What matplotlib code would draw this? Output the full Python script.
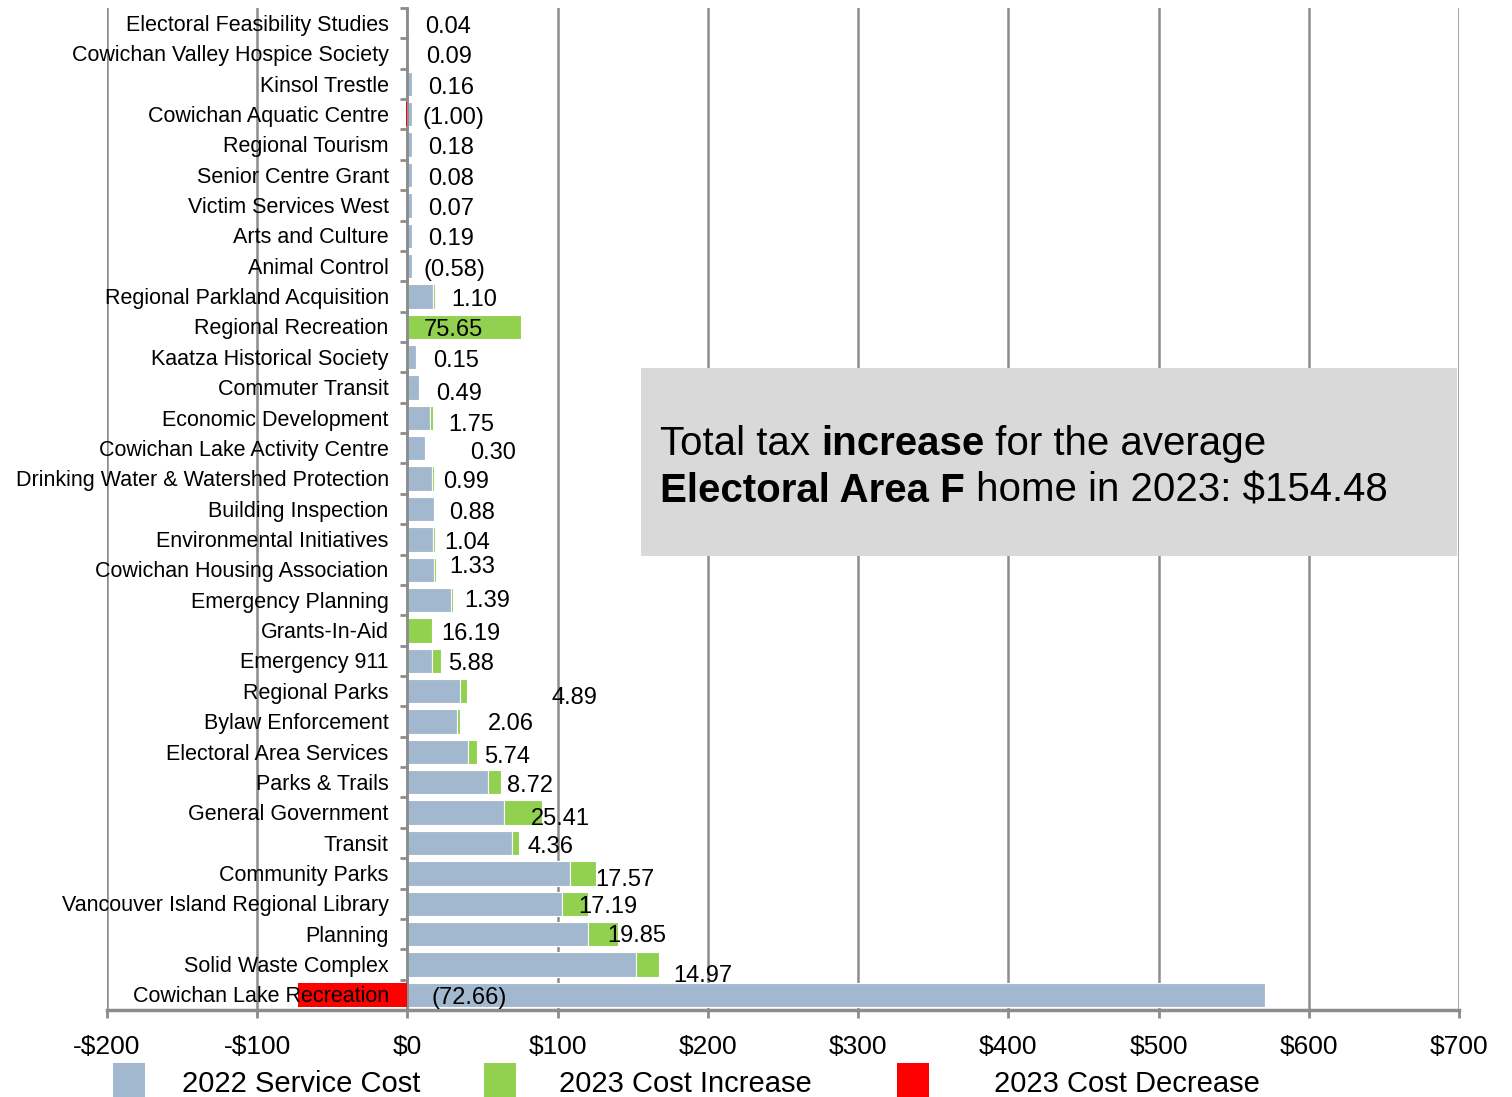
import matplotlib
matplotlib.use("Agg")
import matplotlib.pyplot as plt
from matplotlib.patches import Rectangle

plt.rcParams['font.family'] = ['Liberation Sans', 'DejaVu Sans']

categories = [
    "Electoral Feasibility Studies", "Cowichan Valley Hospice Society", "Kinsol Trestle",
    "Cowichan Aquatic Centre", "Regional Tourism", "Senior Centre Grant",
    "Victim Services West", "Arts and Culture", "Animal Control",
    "Regional Parkland Acquisition", "Regional Recreation", "Kaatza Historical Society",
    "Commuter Transit", "Economic Development", "Cowichan Lake Activity Centre",
    "Drinking Water & Watershed Protection", "Building Inspection", "Environmental Initiatives",
    "Cowichan Housing Association", "Emergency Planning", "Grants-In-Aid",
    "Emergency 911", "Regional Parks", "Bylaw Enforcement", "Electoral Area Services",
    "Parks & Trails", "General Government", "Transit", "Community Parks",
    "Vancouver Island Regional Library", "Planning", "Solid Waste Complex",
    "Cowichan Lake Recreation",
]
# 2022 service cost
cost_2022 = [0.3, 0.5, 3.0, 3.0, 3.0, 3.0, 3.0, 3.0, 3.0,
             17.0, 0.0, 6.0, 8.0, 15.0, 12.0,
             16.5, 17.5, 17.0, 17.5, 29.0, 0.0,
             16.5, 34.7, 33.0, 40.3, 53.6, 64.3, 69.8, 108.0,
             103.0, 120.4, 152.4, 571.0]
# 2023 change (positive = increase, negative = decrease)
change_2023 = [0.04, 0.09, 0.16, -1.00, 0.18, 0.08, 0.07, 0.19, -0.58,
               1.10, 75.65, 0.15, 0.49, 1.75, 0.30,
               0.99, 0.88, 1.04, 1.33, 1.39, 16.19,
               5.88, 4.89, 2.06, 5.74, 8.72, 25.41, 4.36, 17.57,
               17.19, 19.85, 14.97, -72.66]
# data label placement (x start in $, vertical shift in rows)
label_x = [12, 12.7, 14, 10, 14, 14, 14, 14, 10.7,
           29.3, 10.7, 17.3, 19.3, 27.3, 42,
           24, 28, 24.7, 28, 38, 22.7,
           27.3, 96, 53.3, 51.3, 66, 82, 80, 125.3,
           114, 132.7, 176.7, 16]
label_dy = [0, 0, 0, 0, 0, 0, 0, 0, 0,
            0, 0, 0, 0.1, 0.1, 0.05,
            0, 0, 0, -0.2, -0.1, 0,
            0, 0.1, -0.05, 0.05, 0, 0.1, 0, 0.1,
            0, -0.05, 0.25, 0]
xticks = [-200, -100, 0, 100, 200, 300, 400, 500, 600, 700]
legend_labels = ["2022 Service Cost", "2023 Cost Increase", "2023 Cost Decrease"]

BLUE = '#A2B8CF'
GREEN = '#92D050'
RED = '#FF0000'
GRID = '#8C8C8C'

W, H = 1512, 1097
fig = plt.figure(figsize=(W / 100, H / 100), dpi=100)
ax = fig.add_axes([107 / W, 1 - 1010 / H, (1459 - 107) / W, (1010 - 8) / H])

n = len(categories)
ys = list(range(n))
inc = [max(c, 0) for c in change_2023]
dec = [min(c, 0) for c in change_2023]

ax.barh(ys, cost_2022, left=0, height=0.8, color=BLUE, edgecolor='white', linewidth=0.8, zorder=3)
ax.barh(ys, inc, left=cost_2022, height=0.8, color=GREEN, edgecolor='white', linewidth=0.8, zorder=3)
ax.barh(ys, dec, left=0, height=0.8, color=RED, edgecolor='none', linewidth=0, zorder=5)

ax.set_xlim(-200, 700)
ax.set_ylim(n - 0.5, -0.5)

# x axis
ax.set_xticks(xticks)
ax.set_xticklabels([("-$%d" % abs(v)) if v < 0 else ("$%d" % v) for v in xticks], fontsize=19)
ax.tick_params(axis='x', length=6, width=2, color=GRID, pad=12)
ax.xaxis.grid(True, color=GRID, linewidth=1.8, zorder=0)
ax.set_axisbelow(True)

# zero axis with category-boundary ticks
ax.spines['left'].set_position(('data', 0))
ax.spines['left'].set_color(GRID)
ax.spines['left'].set_linewidth(2)
ax.spines['left'].set_zorder(4)
ax.set_yticks([i - 0.5 for i in range(n + 1)])
ax.set_yticklabels([])
ax.tick_params(axis='y', length=5, width=2, color=GRID, direction='out')
for s in ['top', 'right']:
    ax.spines[s].set_visible(False)
ax.spines['bottom'].set_color(GRID)
ax.spines['bottom'].set_linewidth(2.5)

# category labels
for y, cat in zip(ys, categories):
    ax.text(-12.5, y + 0.07, cat, ha='right', va='center', fontsize=15.5, zorder=6)

# data labels
for y, c, lx, dy in zip(ys, change_2023, label_x, label_dy):
    s = ("(%.2f)" % abs(c)) if c < 0 else ("%.2f" % c)
    ax.text(lx, y + 0.12 + dy, s, ha='left', va='center', fontsize=17, zorder=6)

# annotation box
fig.patches.append(Rectangle((641 / W, 1 - 556 / H), 816 / W, 188 / H,
                             transform=fig.transFigure, facecolor='#D9D9D9',
                             edgecolor='none', zorder=5))
fs = 29
t1 = fig.text(660 / W, 1 - 455 / H, "Total tax ", fontsize=fs, va='baseline', zorder=6)
t2 = fig.text(0, 0, "increase", fontsize=fs, fontweight='bold', va='baseline', zorder=6)
t3 = fig.text(0, 0, " for the average", fontsize=fs, va='baseline', zorder=6)
t4 = fig.text(660 / W, 1 - 502 / H, "Electoral Area F", fontsize=fs, fontweight='bold', va='baseline', zorder=6)
t5 = fig.text(0, 0, " home in 2023: $154.48", fontsize=fs, va='baseline', zorder=6)

fig.canvas.draw()
r = fig.canvas.get_renderer()
def place_after(prev, nxt):
    bb = prev.get_window_extent(r)
    x = bb.x1 / W
    nxt.set_position((x, prev.get_position()[1]))
place_after(t1, t2)
fig.canvas.draw()
place_after(t2, t3)
place_after(t4, t5)

# legend
leg_colors = [BLUE, GREEN, RED]
patch_x = [113, 484, 897]
text_x = [182, 559, 994]
for c, px, tx, lab in zip(leg_colors, patch_x, text_x, legend_labels):
    fig.patches.append(Rectangle((px / W, 0), 32 / W, 34 / H, transform=fig.transFigure,
                                 facecolor=c, edgecolor='none'))
    fig.text(tx / W, 1 - 1084 / H, lab, fontsize=21, va='center', ha='left')

fig.savefig("out.png", dpi=100)
